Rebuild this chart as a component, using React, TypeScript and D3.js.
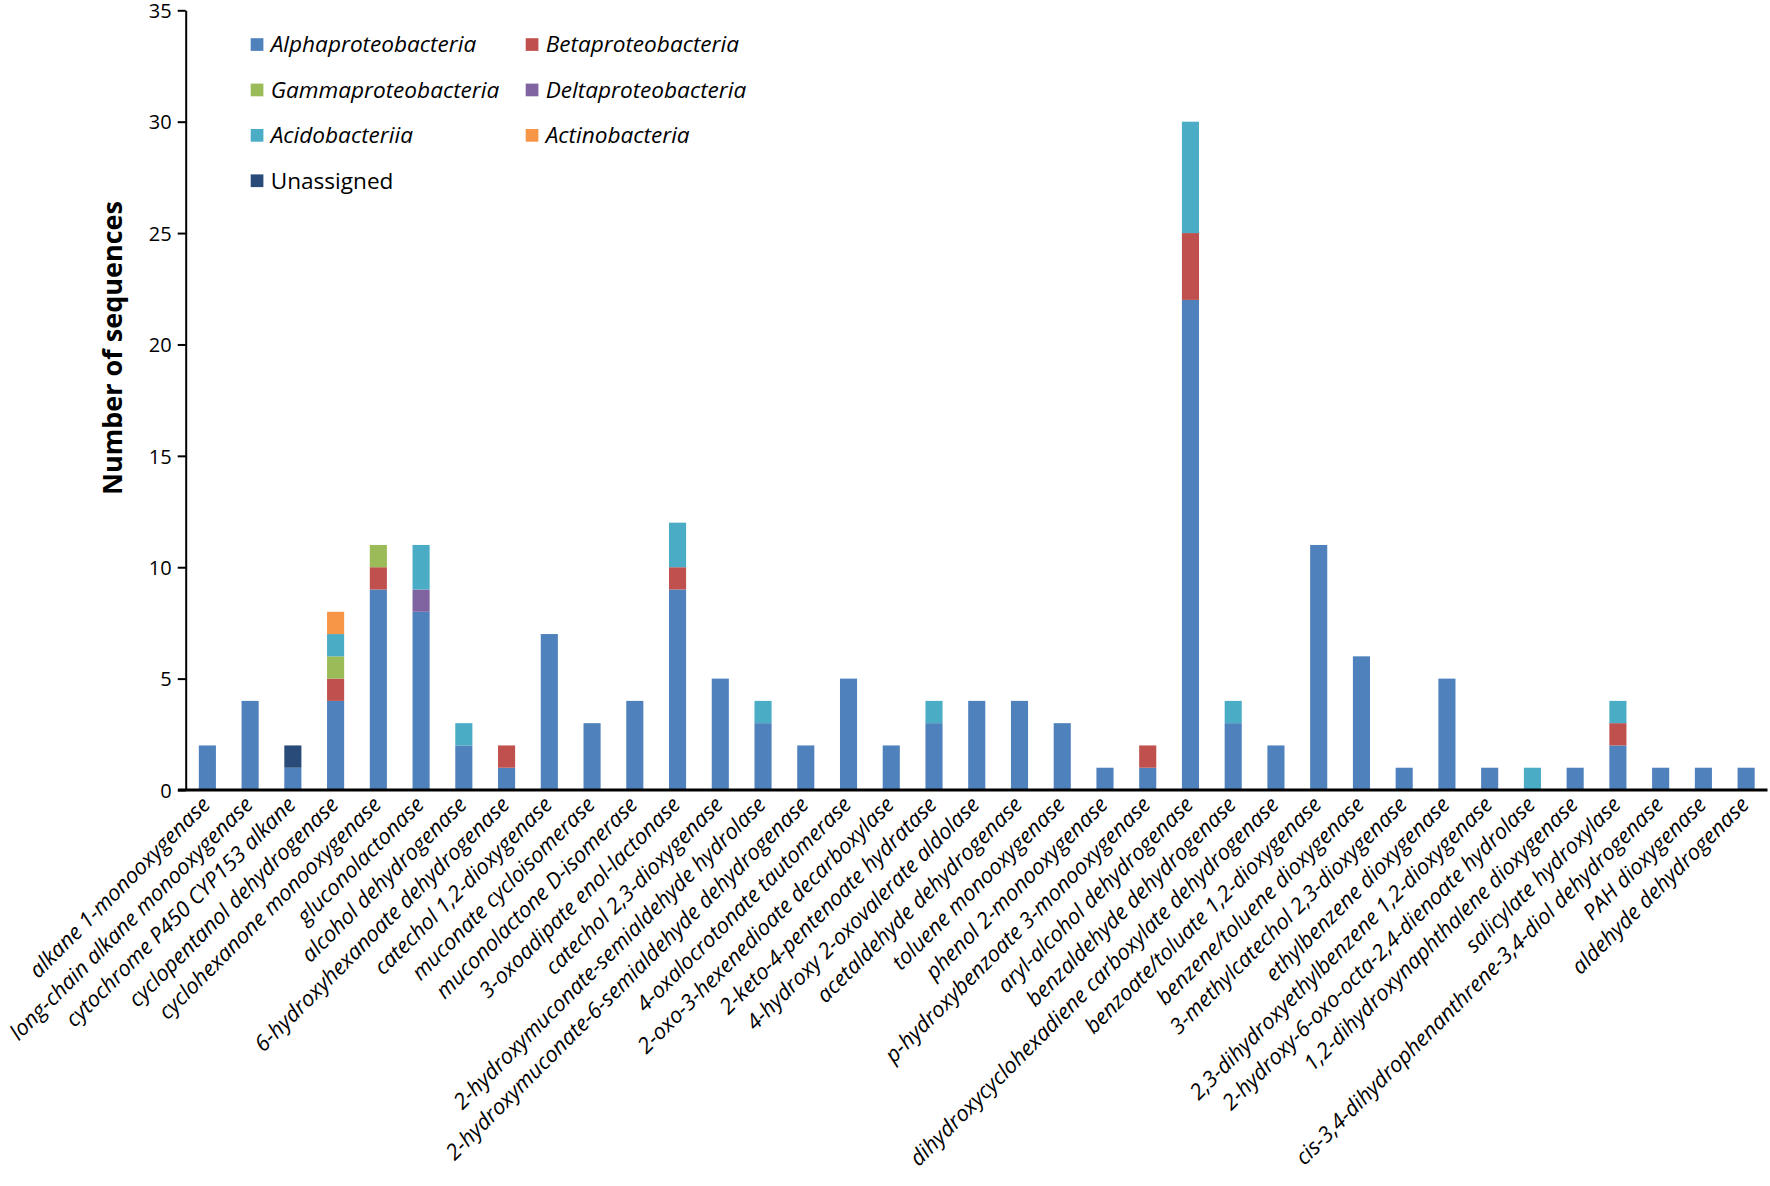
import React, { useEffect, useRef } from 'react';
import * as d3 from 'd3';

const categories = [
  'alkane 1-monooxygenase',
  'long-chain alkane monooxygenase',
  'cytochrome P450 CYP153 alkane',
  'cyclopentanol dehydrogenase',
  'cyclohexanone monooxygenase',
  'gluconolactonase',
  'alcohol dehydrogenase',
  '6-hydroxyhexanoate dehydrogenase',
  'catechol 1,2-dioxygenase',
  'muconate cycloisomerase',
  'muconolactone D-isomerase',
  '3-oxoadipate enol-lactonase',
  'catechol 2,3-dioxygenase',
  '2-hydroxymuconate-semialdehyde hydrolase',
  '2-hydroxymuconate-6-semialdehyde dehydrogenase',
  '4-oxalocrotonate tautomerase',
  '2-oxo-3-hexenedioate decarboxylase',
  '2-keto-4-pentenoate hydratase',
  '4-hydroxy 2-oxovalerate aldolase',
  'acetaldehyde dehydrogenase',
  'toluene monooxygenase',
  'phenol 2-monooxygenase',
  'p-hydroxybenzoate 3-monooxygenase',
  'aryl-alcohol dehydrogenase',
  'benzaldehyde dehydrogenase',
  'dihydroxycyclohexadiene carboxylate dehydrogenase',
  'benzoate/toluate 1,2-dioxygenase',
  'benzene/toluene dioxygenase',
  '3-methylcatechol 2,3-dioxygenase',
  'ethylbenzene dioxygenase',
  '2,3-dihydroxyethylbenzene 1,2-dioxygenase',
  '2-hydroxy-6-oxo-octa-2,4-dienoate hydrolase',
  '1,2-dihydroxynaphthalene dioxygenase',
  'salicylate hydroxylase',
  'cis-3,4-dihydrophenanthrene-3,4-diol dehydrogenase',
  'PAH dioxygenase',
  'aldehyde dehydrogenase',
];

const alphaproteobacteria = [2, 4, 1, 4, 9, 8, 2, 1, 7, 3, 4, 9, 5, 3, 2, 5, 2, 3, 4, 4, 3, 1, 1, 22, 3, 2, 11, 6, 1, 5, 1, 0, 1, 2, 1, 1, 1];
const betaproteobacteria = [0, 0, 0, 1, 1, 0, 0, 1, 0, 0, 0, 1, 0, 0, 0, 0, 0, 0, 0, 0, 0, 0, 1, 3, 0, 0, 0, 0, 0, 0, 0, 0, 0, 1, 0, 0, 0];
const gammaproteobacteria = [0, 0, 0, 1, 1, 0, 0, 0, 0, 0, 0, 0, 0, 0, 0, 0, 0, 0, 0, 0, 0, 0, 0, 0, 0, 0, 0, 0, 0, 0, 0, 0, 0, 0, 0, 0, 0];
const deltaproteobacteria = [0, 0, 0, 0, 0, 1, 0, 0, 0, 0, 0, 0, 0, 0, 0, 0, 0, 0, 0, 0, 0, 0, 0, 0, 0, 0, 0, 0, 0, 0, 0, 0, 0, 0, 0, 0, 0];
const acidobacteriia = [0, 0, 0, 1, 0, 2, 1, 0, 0, 0, 0, 2, 0, 1, 0, 0, 0, 1, 0, 0, 0, 0, 0, 5, 1, 0, 0, 0, 0, 0, 0, 1, 0, 1, 0, 0, 0];
const actinobacteria = [0, 0, 0, 1, 0, 0, 0, 0, 0, 0, 0, 0, 0, 0, 0, 0, 0, 0, 0, 0, 0, 0, 0, 0, 0, 0, 0, 0, 0, 0, 0, 0, 0, 0, 0, 0, 0];
const unassigned = [0, 0, 1, 0, 0, 0, 0, 0, 0, 0, 0, 0, 0, 0, 0, 0, 0, 0, 0, 0, 0, 0, 0, 0, 0, 0, 0, 0, 0, 0, 0, 0, 0, 0, 0, 0, 0];

const seriesNames = [
  'Alphaproteobacteria',
  'Betaproteobacteria',
  'Gammaproteobacteria',
  'Deltaproteobacteria',
  'Acidobacteriia',
  'Actinobacteria',
  'Unassigned',
];
const seriesValues = [
  alphaproteobacteria,
  betaproteobacteria,
  gammaproteobacteria,
  deltaproteobacteria,
  acidobacteriia,
  actinobacteria,
  unassigned,
];
const seriesColors = ['#4F81BD', '#C0504D', '#9BBB59', '#8064A2', '#4BACC6', '#F79646', '#284B79'];
const seriesItalic = [true, true, true, true, true, true, false];
const yTicks = [0, 5, 10, 15, 20, 25, 30, 35];

const FONT = '"Open Sans", Lato, sans-serif';

export default function App() {
  const ref = useRef<SVGSVGElement>(null);

  useEffect(() => {
    const svg = d3.select(ref.current);
    svg.selectAll('*').remove();

    const x0 = 186;
    const x1 = 1767.5;
    const yBottom = 790;
    const yTop = 10.3;

    const x = d3
      .scaleBand<string>()
      .domain(categories)
      .range([x0, x1])
      .paddingInner(0.6)
      .paddingOuter(0.3);
    const y = d3.scaleLinear().domain([0, 35]).range([yBottom, yTop]);

    const rows = categories.map((c, i) => {
      const r: any = { category: c };
      seriesNames.forEach((s, k) => (r[s] = seriesValues[k][i]));
      return r;
    });
    const stacked = d3.stack<any>().keys(seriesNames)(rows);

    // bars
    const gBars = svg.append('g');
    stacked.forEach((layer, k) => {
      gBars
        .append('g')
        .attr('fill', seriesColors[k])
        .selectAll('rect')
        .data(layer.filter((d) => d[1] - d[0] > 0))
        .join('rect')
        .attr('x', (d) => x(d.data.category)!)
        .attr('width', x.bandwidth())
        .attr('y', (d) => y(d[1]))
        .attr('height', (d) => y(d[0]) - y(d[1]));
    });

    // y axis
    const yAxis = svg
      .append('g')
      .attr('transform', `translate(${x0 - 0.3},0)`)
      .call(d3.axisLeft(y).tickValues(yTicks).tickSize(8).tickSizeOuter(0).tickPadding(6));
    yAxis.select('.domain').attr('stroke', '#000').attr('stroke-width', 2);
    yAxis.selectAll('.tick line').attr('stroke', '#000').attr('stroke-width', 2);
    yAxis
      .selectAll('.tick text')
      .attr('font-family', FONT)
      .attr('font-size', 20)
      .attr('dy', '0.36em')
      .attr('fill', '#000');

    // x axis line
    svg
      .append('line')
      .attr('x1', x0 - 8)
      .attr('x2', x1)
      .attr('y1', yBottom)
      .attr('y2', yBottom)
      .attr('stroke', '#000')
      .attr('stroke-width', 3);

    // x labels
    svg
      .append('g')
      .selectAll('text')
      .data(categories)
      .join('text')
      .attr('transform', (d) => `translate(${x(d)! + x.bandwidth() / 2 + 4},${yBottom + 16}) rotate(-45)`)
      .attr('text-anchor', 'end')
      .attr('font-family', FONT)
      .attr('font-style', 'italic')
      .attr('font-size', 21.8)
      .attr('fill', '#000')
      .text((d) => d);

    // y title
    svg
      .append('text')
      .attr('transform', `translate(122,348) rotate(-90)`)
      .attr('text-anchor', 'middle')
      .attr('font-family', FONT)
      .attr('font-weight', 'bold')
      .attr('font-size', 27)
      .attr('fill', '#000')
      .text('Number of sequences');

    // legend
    const legend = svg.append('g');
    seriesNames.forEach((s, k) => {
      const col = k % 2;
      const row = Math.floor(k / 2);
      const lx = col === 0 ? 250.7 : 525.7;
      const ly = 44.5 + row * 45.4;
      legend
        .append('rect')
        .attr('x', lx)
        .attr('y', ly - 6.3)
        .attr('width', 12.7)
        .attr('height', 12.7)
        .attr('fill', seriesColors[k]);
      legend
        .append('text')
        .attr('x', lx + 20)
        .attr('y', ly)
        .attr('dy', '0.35em')
        .attr('font-family', FONT)
        .attr('font-style', seriesItalic[k] ? 'italic' : 'normal')
        .attr('font-size', 22.6)
        .attr('fill', '#000')
        .text(s);
    });
  }, []);

  return (
    <svg
      ref={ref}
      width={1770}
      height={1186}
      style={{ position: 'absolute', left: 0, top: 0, background: '#fff' }}
    />
  );
}
